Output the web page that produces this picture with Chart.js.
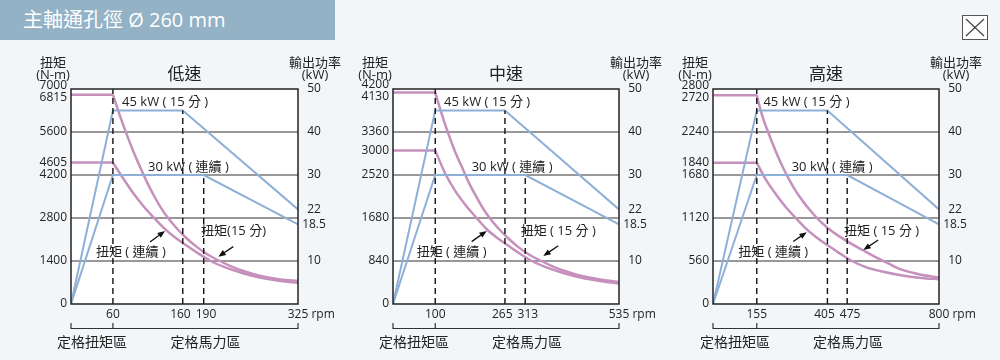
<!DOCTYPE html>
<html>
<head>
<meta charset="utf-8">
<script src="https://cdn.jsdelivr.net/npm/chart.js@4.4.1/dist/chart.umd.min.js"></script>
<style>
  body { margin: 0; width: 1000px; height: 360px; overflow: hidden; position: relative; background: #f3f6f9; font-family: "Open Sans", "Noto Sans CJK TC", sans-serif; }
  .bar { position: absolute; left: 0; top: 0; width: 335px; height: 40px; box-sizing: border-box; padding-left: 23px; background: #93b2c6; color: #fff; font-size: 20px; line-height: 40px; }
  canvas { position: absolute; left: 0; top: 0; }
  .close { position: absolute; left: 962px; top: 15px; }
</style>
</head>
<body>
<div class="bar">主軸通孔徑 Ø 260 mm</div>
<svg class="close" width="26" height="25">
  <rect x="0.5" y="0.5" width="25" height="24" fill="#fff" stroke="#555" stroke-width="1"/>
  <line x1="4" y1="4" x2="22" y2="21" stroke="#444" stroke-width="1.2"/>
  <line x1="22" y1="4" x2="4" y2="21" stroke="#444" stroke-width="1.2"/>
</svg>
<canvas id="low" width="1000" height="360"></canvas>
<canvas id="mid" width="1000" height="360"></canvas>
<canvas id="high" width="1000" height="360"></canvas>
<script>
// 低速
const lowRpmTicks = [60, 160, 190, 325]
const lowTorqueTicks = [0, 1400, 2800, 4200, 4605, 5600, 6815, 7000]
const lowPowerTicks = [10, 18.5, 22, 30, 40, 50]
const lowGrid = [1400, 2800, 4200, 5600]
const lowP15Rpm = [0, 60, 160, 325]
const lowP15Kw = [0, 45, 45, 22]
const lowPcRpm = [0, 60, 190, 325]
const lowPcKw = [0, 30, 30, 18.5]
const lowT15Rpm = [0, 60, 70, 80, 90, 100, 110, 120, 130, 139, 150, 165, 180, 195, 213, 230, 250, 270, 300, 325]
const lowT15Nm = [6815, 6815, 6135, 5505, 4925, 4405, 3910, 3475, 3090, 2800, 2500, 2150, 1860, 1620, 1400, 1220, 1050, 920, 800, 750]
const lowTcRpm = [0, 60, 75, 90, 105, 120, 135, 150, 165, 180, 200, 220, 245, 270, 300, 325]
const lowTcNm = [4605, 4605, 4080, 3580, 3150, 2780, 2430, 2150, 1910, 1680, 1400, 1200, 1010, 865, 750, 690]

// 中速
const midRpmTicks = [100, 265, 313, 535]
const midTorqueTicks = [0, 840, 1680, 2520, 3000, 3360, 4130, 4200]
const midPowerTicks = [10, 18.5, 22, 30, 40, 50]
const midGrid = [840, 1680, 2520, 3360]
const midP15Rpm = [0, 100, 265, 535]
const midP15Kw = [0, 45, 45, 22]
const midPcRpm = [0, 100, 313, 535]
const midPcKw = [0, 30, 30, 18.5]
const midT15Rpm = [0, 100, 115, 132, 148, 165, 181, 198, 214, 229, 247, 272, 296, 321, 351, 379, 412, 444, 494, 535]
const midT15Nm = [4130, 4130, 3720, 3303, 2955, 2643, 2346, 2085, 1854, 1680, 1500, 1289, 1116, 972, 840, 732, 630, 552, 475, 430]
const midTcRpm = [0, 100, 123, 148, 173, 198, 222, 247, 272, 296, 329, 362, 403, 444, 494, 535]
const midTcNm = [3000, 3000, 2560, 2200, 1920, 1680, 1460, 1290, 1146, 1008, 840, 720, 606, 519, 445, 400]

// 高速
const highRpmTicks = [155, 405, 475, 800]
const highTorqueTicks = [0, 560, 1120, 1680, 1840, 2240, 2720, 2800]
const highPowerTicks = [10, 18.5, 22, 30, 40, 50]
const highGrid = [560, 1120, 1680, 2240]
const highP15Rpm = [0, 155, 405, 800]
const highP15Kw = [0, 45, 45, 22]
const highPcRpm = [0, 155, 475, 800]
const highPcKw = [0, 30, 30, 18.5]
const highT15Rpm = [0, 155, 172, 197, 222, 246, 271, 295, 320, 343, 369, 406, 443, 492, 541, 579, 620, 665, 738, 800]
const highT15Nm = [2720, 2720, 2480, 2220, 1990, 1790, 1610, 1460, 1330, 1224, 1116, 990, 890, 780, 680, 605, 530, 450, 380, 345]
const highTcRpm = [0, 155, 185, 222, 258, 295, 332, 369, 406, 443, 492, 541, 603, 665, 738, 800]
const highTcNm = [1840, 1840, 1632, 1432, 1260, 1112, 972, 860, 764, 672, 560, 480, 420, 375, 340, 322]

const BLUE = '#8fb0d6'
const PINK = '#c690bd'
const NUM = '"Open Sans", "Noto Sans CJK TC", sans-serif'

// layout of the three panels (pixels + label spots as fractions of the plot box)
const panels = [
  { id: 'low', title: '低速', box: [71, 89, 298, 304], maxRpm: 325, maxNm: 7000,
    rpmTicks: lowRpmTicks, torqueTicks: lowTorqueTicks, powerTicks: lowPowerTicks, grid: lowGrid,
    p15: [lowP15Rpm, lowP15Kw], pc: [lowPcRpm, lowPcKw], t15: [lowT15Rpm, lowT15Nm], tc: [lowTcRpm, lowTcNm],
    t15Text: '扭矩(15 分)',
    spots: { kw45: [0.225, 0.06], kw30: [0.339, 0.363], t15: [0.573, 0.66], tc: [0.11, 0.761],
             arrC: [0.348, 0.712, 0.414, 0.66], arr15: [0.715, 0.733, 0.649, 0.78] } },
  { id: 'mid', title: '中速', box: [393, 89, 619, 304], maxRpm: 535, maxNm: 4200,
    rpmTicks: midRpmTicks, torqueTicks: midTorqueTicks, powerTicks: midPowerTicks, grid: midGrid,
    p15: [midP15Rpm, midP15Kw], pc: [midPcRpm, midPcKw], t15: [midT15Rpm, midT15Nm], tc: [midTcRpm, midTcNm],
    t15Text: '扭矩 ( 15 分 )',
    spots: { kw45: [0.226, 0.06], kw30: [0.348, 0.363], t15: [0.565, 0.662], tc: [0.105, 0.761],
             arrC: [0.348, 0.71, 0.415, 0.66], arr15: [0.731, 0.729, 0.665, 0.777] } },
  { id: 'high', title: '高速', box: [713, 89, 939, 304], maxRpm: 800, maxNm: 2800,
    rpmTicks: highRpmTicks, torqueTicks: highTorqueTicks, powerTicks: highPowerTicks, grid: highGrid,
    p15: [highP15Rpm, highP15Kw], pc: [highPcRpm, highPcKw], t15: [highT15Rpm, highT15Nm], tc: [highTcRpm, highTcNm],
    t15Text: '扭矩 ( 15 分 )',
    spots: { kw45: [0.223, 0.06], kw30: [0.348, 0.363], t15: [0.58, 0.662], tc: [0.112, 0.761],
             arrC: [0.355, 0.709, 0.415, 0.666], arr15: [0.731, 0.702, 0.665, 0.749] } }
]

// push labels apart when they would overlap
function spread(items, key, gapOf) {
  items.sort((a, b) => a[key] - b[key])
  for (let i = 1; i < items.length; i++) {
    const gap = gapOf(items[i - 1], items[i])
    const d = items[i][key] - items[i - 1][key]
    if (d < gap) {
      const s = (gap - d) / 2
      items[i - 1][key] -= s
      items[i][key] += s
    }
  }
  return items
}

function arrow(ctx, x1, y1, x2, y2) {
  const ang = Math.atan2(y2 - y1, x2 - x1), h = 8
  ctx.beginPath()
  ctx.moveTo(x1, y1)
  ctx.lineTo(x2 - Math.cos(ang) * h * 0.7, y2 - Math.sin(ang) * h * 0.7)
  ctx.stroke()
  ctx.beginPath()
  ctx.moveTo(x2, y2)
  ctx.lineTo(x2 - h * Math.cos(ang - 0.38), y2 - h * Math.sin(ang - 0.38))
  ctx.lineTo(x2 - h * Math.cos(ang + 0.38), y2 - h * Math.sin(ang + 0.38))
  ctx.closePath()
  ctx.fill()
}

const panelDeco = {
  id: 'panelDeco',
  beforeDatasetsDraw(chart, args, o) {
    const { ctx, chartArea: a } = chart
    const y = chart.scales.y
    ctx.save()
    ctx.fillStyle = '#fff'
    ctx.fillRect(a.left, a.top, a.width, a.height)
    ctx.strokeStyle = '#333'
    ctx.lineWidth = 1.2
    o.grid.forEach(v => {
      const py = y.getPixelForValue(v)
      ctx.beginPath(); ctx.moveTo(a.left, py); ctx.lineTo(a.right, py); ctx.stroke()
    })
    ctx.restore()
  },
  afterDatasetsDraw(chart, args, o) {
    const { ctx, chartArea: a } = chart
    const { x, y, y2 } = chart.scales
    const fx = f => a.left + f * a.width
    const fy = f => a.top + f * a.height
    ctx.save()
    ctx.strokeStyle = '#222'
    ctx.lineWidth = 1.5
    ctx.strokeRect(a.left, a.top, a.width, a.height)

    ctx.fillStyle = '#222'
    ctx.textBaseline = 'middle'
    ctx.font = '12px ' + NUM
    const rows = () => 12
    ctx.textAlign = 'right'
    spread(o.torqueTicks.map(v => ({ t: String(v), y: y.getPixelForValue(v) })), 'y', rows)
      .forEach(l => ctx.fillText(l.t, a.left - 4, l.y))
    ctx.textAlign = 'center'
    spread(o.powerTicks.map(v => ({ t: String(v), y: y2.getPixelForValue(v) })), 'y', rows)
      .forEach(l => ctx.fillText(l.t, a.right + 16, l.y))

    const last = o.rpmTicks[o.rpmTicks.length - 1]
    const xl = o.rpmTicks.map(v => ({ v: v, t: String(v), x: x.getPixelForValue(v), w: ctx.measureText(String(v)).width }))
    spread(xl, 'x', (p, q) => (p.w + q.w) / 2 + 5).forEach(l => {
      const py = a.bottom + 11
      ctx.textAlign = 'center'
      ctx.fillText(l.t, l.x, py)
      if (l.v === last) {
        ctx.textAlign = 'left'
        ctx.fillText(' rpm', l.x + l.w / 2, py)
      }
    })

    // region bracket under the axis
    const by = a.bottom + 24.5, mid = x.getPixelForValue(o.rpmTicks[0])
    ctx.strokeStyle = '#333'
    ctx.lineWidth = 1.2
    ctx.beginPath()
    ctx.moveTo(a.left, by); ctx.lineTo(a.right, by)
    ;[a.left, mid, a.right].forEach(px => { ctx.moveTo(px, by - 5.5); ctx.lineTo(px, by + 0.6) })
    ctx.stroke()
    ctx.font = '14px "Noto Sans CJK TC", sans-serif'
    ctx.textAlign = 'center'
    ctx.fillText('定格扭矩區', (a.left + mid) / 2, a.bottom + 38)
    ctx.fillText('定格馬力區', (mid + a.right) / 2, a.bottom + 38)

    // titles
    ctx.font = '17px "Noto Sans CJK TC", sans-serif'
    ctx.fillText(o.title, (a.left + a.right) / 2, a.top - 15)
    ctx.font = '13px "Noto Sans CJK TC", sans-serif'
    ctx.fillText('扭矩', a.left - 18, a.top - 27)
    ctx.fillText('輸出功率', a.right + 17, a.top - 27)
    ctx.font = '13px ' + NUM
    ctx.fillText('(N-m)', a.left - 18, a.top - 14)
    ctx.fillText('(kW)', a.right + 17, a.top - 14)

    // curve notes
    const s = o.spots
    ctx.textAlign = 'left'
    ctx.font = '13px ' + NUM
    ctx.fillText('45 kW ( 15 分 )', fx(s.kw45[0]), fy(s.kw45[1]))
    ctx.fillText('30 kW ( 連續 )', fx(s.kw30[0]), fy(s.kw30[1]))
    ctx.fillText(o.t15Text, fx(s.t15[0]), fy(s.t15[1]))
    ctx.fillText('扭矩 ( 連續 )', fx(s.tc[0]), fy(s.tc[1]))
    ctx.strokeStyle = '#111'
    ctx.fillStyle = '#111'
    ctx.lineWidth = 1.3
    arrow(ctx, fx(s.arrC[0]), fy(s.arrC[1]), fx(s.arrC[2]), fy(s.arrC[3]))
    arrow(ctx, fx(s.arr15[0]), fy(s.arr15[1]), fx(s.arr15[2]), fy(s.arr15[3]))
    ctx.restore()
  }
}

const pts = (xs, ys) => xs.map((v, i) => ({ x: v, y: ys[i] }))

function line(data, color, width, axis, extra) {
  return Object.assign({ data: data, borderColor: color, borderWidth: width, yAxisID: axis,
    pointRadius: 0, tension: 0, fill: false }, extra || {})
}

function dashed(data, axis) {
  return line(data, '#111', 1.4, axis, { borderDash: [6, 4] })
}

panels.forEach(p => {
  const [p15r, p15k] = p.p15, [pcr, pck] = p.pc
  const [t15r, t15n] = p.t15, [tcr, tcn] = p.tc
  const curve = { cubicInterpolationMode: 'monotone' }
  new Chart(document.getElementById(p.id), {
    type: 'line',
    data: {
      datasets: [
        dashed([{ x: p15r[1], y: 0 }, { x: p15r[1], y: p.maxNm }], 'y'),
        dashed([{ x: p15r[2], y: 0 }, { x: p15r[2], y: p15k[2] }], 'y2'),
        dashed([{ x: pcr[2], y: 0 }, { x: pcr[2], y: pck[2] }], 'y2'),
        line(pts(p15r, p15k), BLUE, 2, 'y2'),
        line(pts(pcr, pck), BLUE, 2, 'y2'),
        line(pts(t15r.slice(0, 2), t15n.slice(0, 2)), PINK, 2.5, 'y'),
        line(pts(t15r.slice(1), t15n.slice(1)), PINK, 2.5, 'y', curve),
        line(pts(tcr.slice(0, 2), tcn.slice(0, 2)), PINK, 2.5, 'y'),
        line(pts(tcr.slice(1), tcn.slice(1)), PINK, 2.5, 'y', curve)
      ]
    },
    options: {
      responsive: false,
      animation: false,
      events: [],
      layout: { padding: { left: p.box[0], top: p.box[1], right: 1000 - p.box[2], bottom: 360 - p.box[3] } },
      scales: {
        x: { type: 'linear', min: 0, max: p.maxRpm, display: false },
        y: { min: 0, max: p.maxNm, display: false },
        y2: { min: 0, max: 50, display: false, position: 'right' }
      },
      plugins: {
        legend: { display: false },
        tooltip: { enabled: false },
        panelDeco: p
      }
    },
    plugins: [panelDeco]
  })
})
</script>
</body>
</html>
